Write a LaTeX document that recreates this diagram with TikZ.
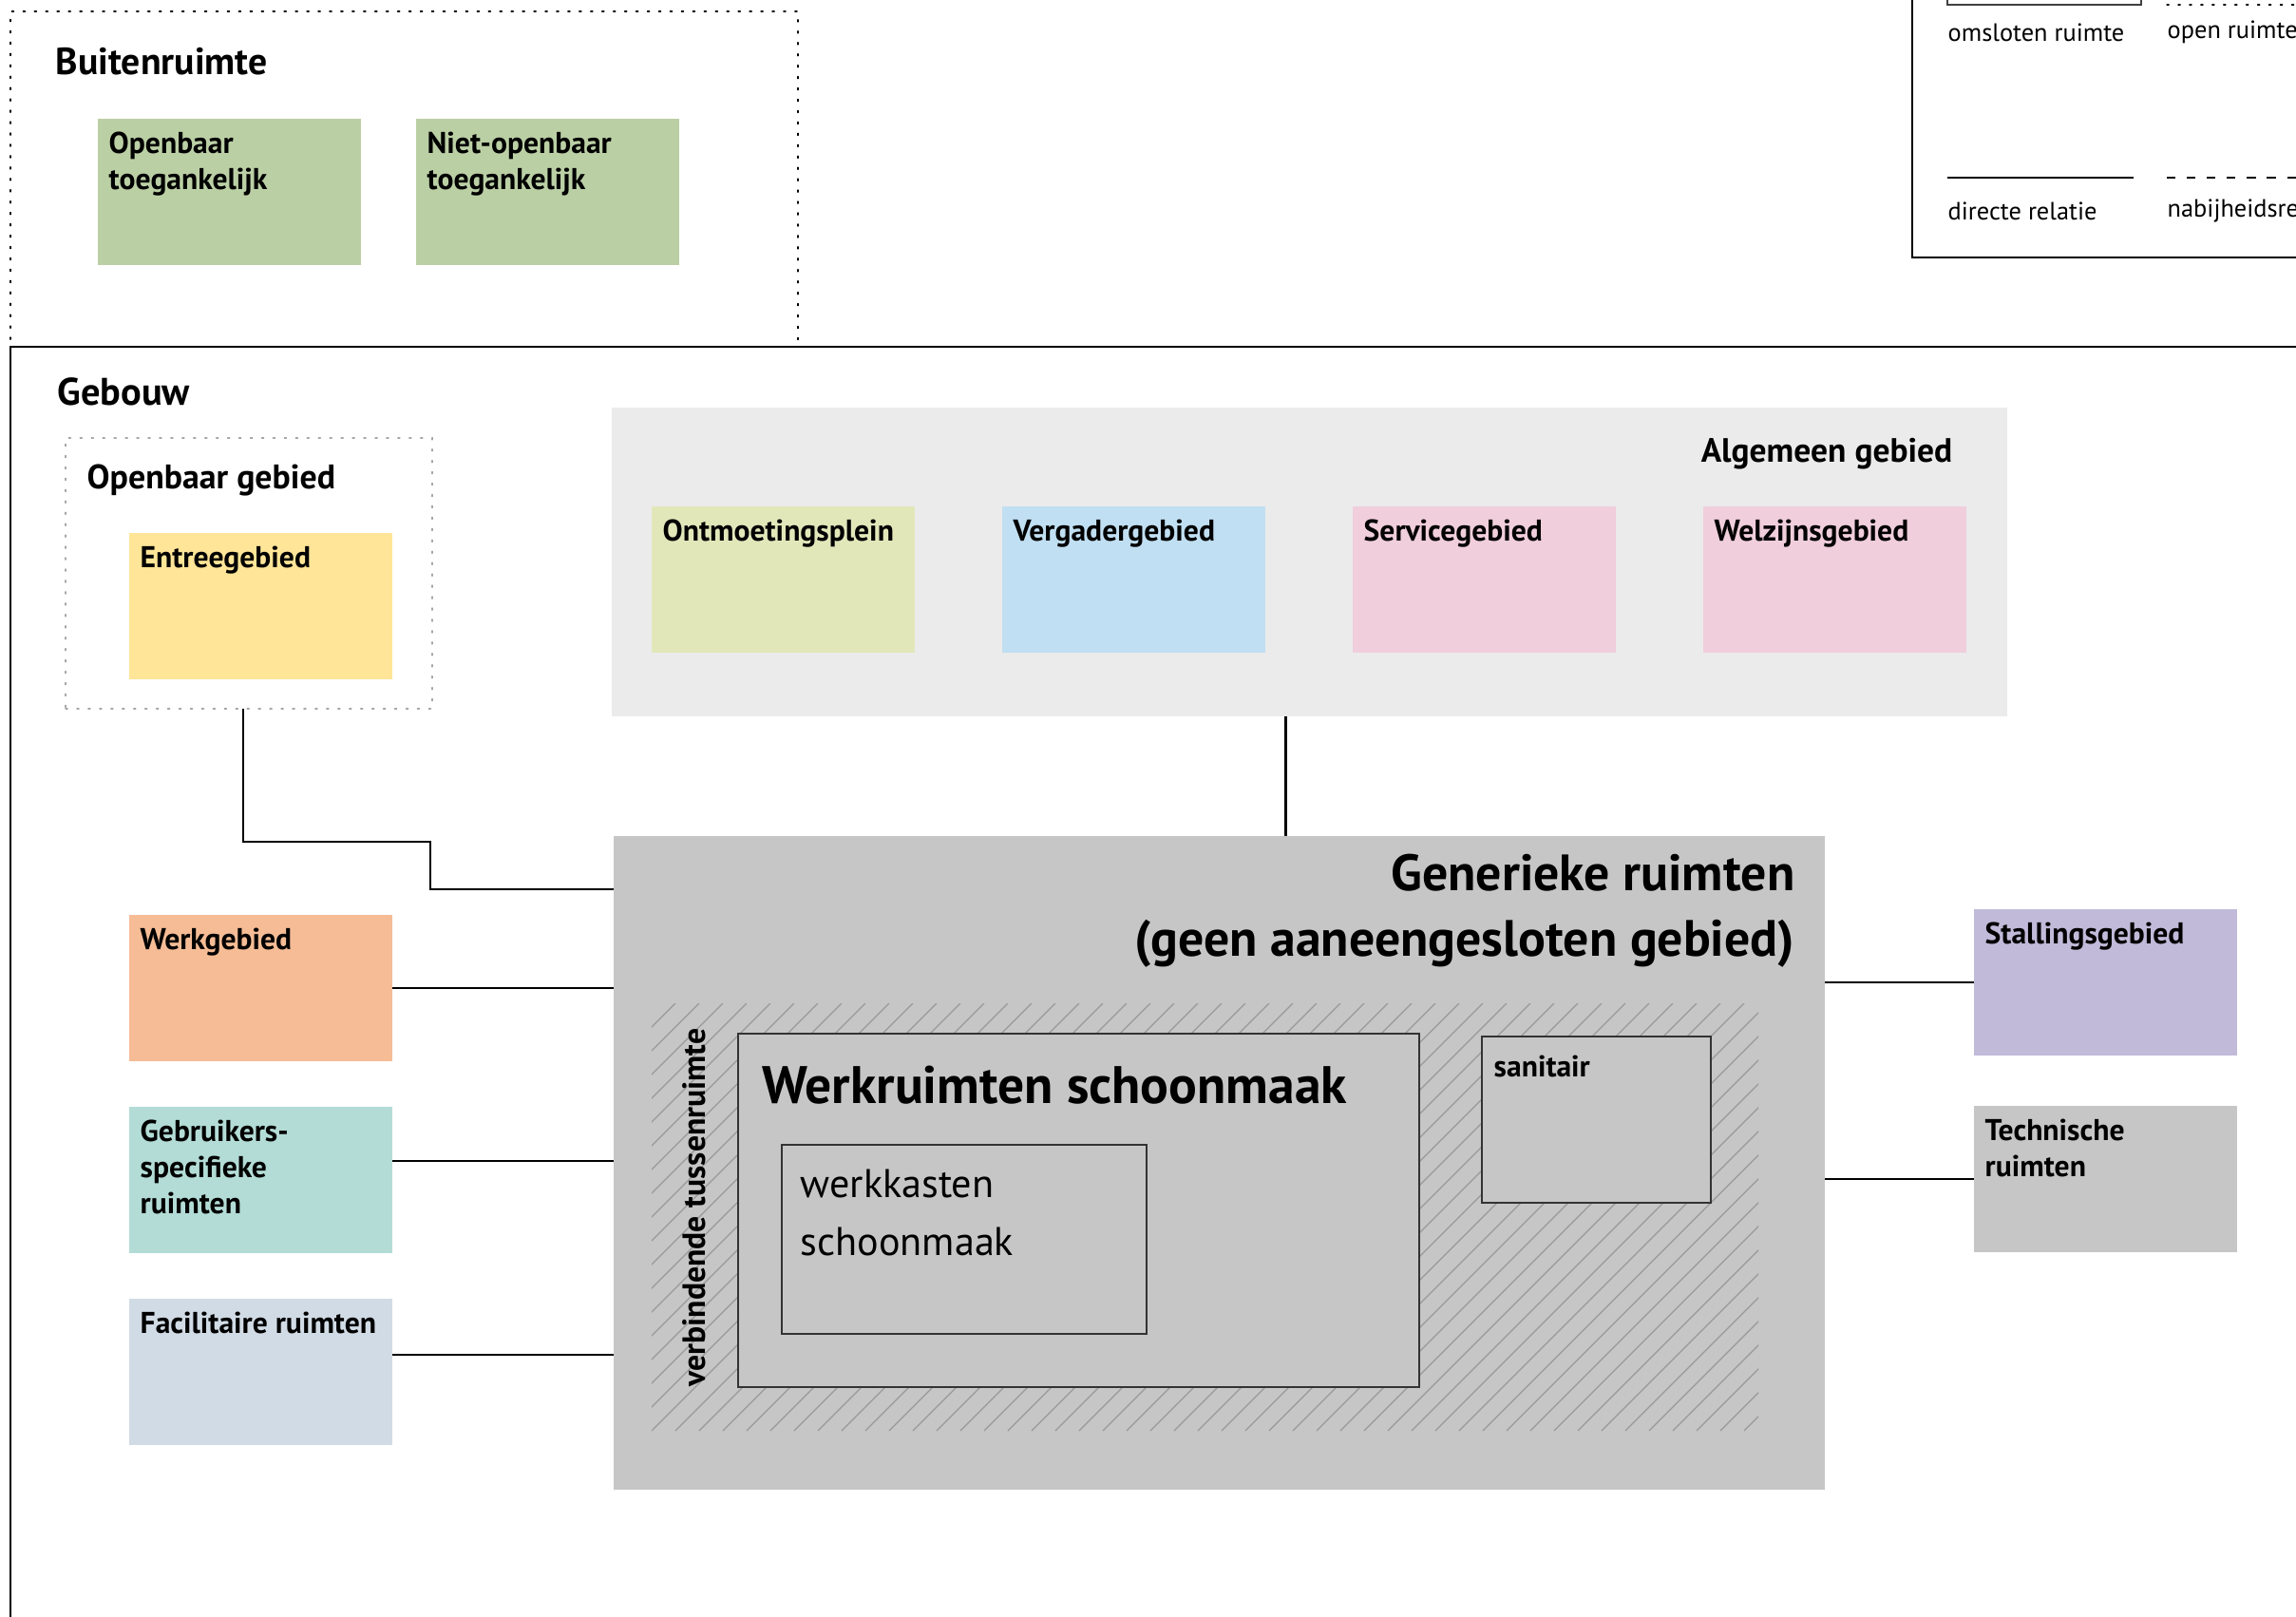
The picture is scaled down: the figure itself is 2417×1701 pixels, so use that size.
\documentclass[tikz,border=0pt]{standalone}
\usepackage{fontspec}
\setmainfont{PT Sans}
\usetikzlibrary{positioning}

\definecolor{buitengroen}{HTML}{BBCFA5}
\definecolor{entreegeel}{HTML}{FFE597}
\definecolor{ontmoetgroen}{HTML}{E2E7BA}
\definecolor{vergaderblauw}{HTML}{C1DFF2}
\definecolor{serviceroze}{HTML}{F0CEDB}
\definecolor{werkoranje}{HTML}{F5BC95}
\definecolor{gebruikersteal}{HTML}{B3DCD6}
\definecolor{facilitairgrijs}{HTML}{D1DBE5}
\definecolor{stallingpaars}{HTML}{C1BAD9}
\definecolor{ruimtegrijs}{HTML}{C6C6C6}
\definecolor{algemeengrijs}{HTML}{EBEBEB}

\begin{document}
\begin{tikzpicture}[
  x=0.1mm, y=-0.1mm,
  zone/.style={anchor=north west, inner sep=0pt, outer sep=0pt},
  area/.style={zone, minimum width=27.7mm, minimum height=15.4mm},
  lbl/.style={anchor=north west, align=left, inner sep=0pt, font=\fontsize{9}{10.8}\selectfont\bfseries, xshift=1.1mm, yshift=-1.3mm},
  title/.style={anchor=west, inner sep=0pt, font=\fontsize{11.3}{13}\selectfont\bfseries},
  legtext/.style={anchor=west, inner sep=0pt, font=\fontsize{7.5}{9}\selectfont},
  rel/.style={line width=0.6pt},
  openline/.style={dash pattern=on 0.6pt off 2.8pt, line cap=round},
  hatch/.style={draw=gray!80, line width=0.35pt}
]
\useasboundingbox (0,0) rectangle (2417,1701);

% buitenruimte
\node[zone, draw, openline, minimum width=82.9mm, minimum height=35.3mm] (buiten) at (11,12) {};
\node[title] (buitentitel) at (58,65) {Buitenruimte};
\node[area, fill=buitengroen, label={[lbl]north west:{Openbaar\\toegankelijk}}] (openbaar) at (103,125) {};
\node[area, fill=buitengroen, right=5.8mm of openbaar, label={[lbl]north west:{Niet-openbaar\\toegankelijk}}] (nietopenbaar) {};

% legenda
\node[zone, draw, line width=0.7pt, minimum width=50mm, minimum height=33mm] (legenda) at (2013,-59) {};
\node[zone, draw=black!75, line width=0.4pt, minimum width=20.4mm, minimum height=4.5mm] (legomsloten) at (2050,-40) {};
\node[legtext] (txtomsloten) at (2050,34) {omsloten ruimte};
\coordinate (openA) at (2281,5);
\coordinate (openB) at (2460,5);
\draw[openline] (openA) -- (openB);
\node[legtext] (txtopen) at (2281,34) {open ruimte};
\coordinate (direktA) at (2050,187);
\coordinate (direktB) at (2246,187);
\draw[rel] (direktA) -- (direktB);
\node[legtext] (txtdirekt) at (2050,222) {directe relatie};
\coordinate (nabijA) at (2281,187);
\coordinate (nabijB) at (2460,187);
\draw[rel, dash pattern=on 2.6pt off 3.4pt] (nabijA) -- (nabijB);
\node[legtext] (txtnabij) at (2281,222) {nabijheidsrelatie};

% gebouw
\node[zone, draw, line width=0.7pt, minimum width=250mm, minimum height=150mm] (gebouw) at (11,365) {};
\node[title, font=\fontsize{11.5}{13}\selectfont\bfseries] (gebouwtitel) at (60,412) {Gebouw};

\node[zone, draw=gray!70, openline, minimum width=38.6mm, minimum height=28.5mm] (openbaargebied) at (69,461) {};
\node[title, font=\fontsize{10.2}{12}\selectfont\bfseries] (ogtitel) at (91,505) {Openbaar gebied};
\node[area, fill=entreegeel, label={[lbl]north west:Entreegebied}] (entree) at (136,561) {};

\node[zone, fill=algemeengrijs, minimum width=146.9mm, minimum height=32.5mm] (algemeen) at (644,429) {};
\node[title, anchor=east, font=\fontsize{10.1}{12}\selectfont\bfseries] (algtitel) at (2056,478) {Algemeen gebied};
\node[area, fill=ontmoetgroen, label={[lbl]north west:Ontmoetingsplein}] (ontmoet) at (686,533) {};
\node[area, fill=vergaderblauw, right=9.2mm of ontmoet, label={[lbl]north west:Vergadergebied}] (vergader) {};
\node[area, fill=serviceroze, right=9.2mm of vergader, label={[lbl]north west:Servicegebied}] (service) {};
\node[area, fill=serviceroze, right=9.2mm of service, label={[lbl]north west:Welzijnsgebied}] (welzijn) {};

\node[area, fill=werkoranje, label={[lbl]north west:Werkgebied}] (werk) at (136,963) {};
\node[area, fill=gebruikersteal, below=4.8mm of werk, label={[lbl]north west:{Gebruikers-\\specifieke\\ruimten}}] (gebruikers) {};
\node[area, fill=facilitairgrijs, below=4.8mm of gebruikers, label={[lbl]north west:Facilitaire ruimten}] (facilitair) {};

\node[area, fill=stallingpaars, label={[lbl]north west:Stallingsgebied}] (stalling) at (2078,957) {};
\node[area, fill=ruimtegrijs, below=5.3mm of stalling, label={[lbl]north west:{Technische\\ruimten}}] (technisch) {};

% generieke ruimten
\node[zone, fill=ruimtegrijs, minimum width=127.5mm, minimum height=68.8mm] (generiek) at (646,880) {};
\node[anchor=east, align=right, inner sep=0pt, font=\fontsize{15.3}{19.6}\selectfont\bfseries] (gentitel) at (1890,959) {Generieke ruimten\\(geen aaneengesloten gebied)};

\node[zone, minimum width=116.5mm, minimum height=45mm] (tussen) at (686,1056) {};
\begin{scope}
  \clip (tussen.north west) rectangle (tussen.south east);
  \foreach \x in {0,25,...,1650}
    \draw[hatch] (tussen.south west) ++(\x-450,0) -- ++(450,-450);
\end{scope}
\node[rotate=90, anchor=west, inner sep=0pt, font=\fontsize{9.6}{11}\selectfont\bfseries] (tussentitel) at (731,1460) {verbindende tussenruimte};

\node[zone, fill=ruimtegrijs, draw=black!80, line width=0.5pt, minimum width=71.7mm, minimum height=37.2mm] (werkruimten) at (777,1088) {};
\node[anchor=west, inner sep=0pt, font=\fontsize{15.8}{18}\selectfont\bfseries] (werktitel) at (802,1142) {Werkruimten schoonmaak};
\node[zone, fill=ruimtegrijs, draw=black!80, line width=0.5pt, minimum width=38.4mm, minimum height=19.9mm, label={[anchor=north west, align=left, inner sep=0pt, font=\fontsize{12}{17.4}\selectfont, xshift=1.9mm, yshift=-2.5mm]north west:{werkkasten\\schoonmaak}}] (werkkasten) at (823,1205) {};
\node[zone, fill=ruimtegrijs, draw=black!80, line width=0.5pt, minimum width=24.1mm, minimum height=17.5mm, label={[lbl, xshift=0.1mm, yshift=-0.6mm]north west:sanitair}] (sanitair) at (1560,1091) {};

% relaties
\draw[rel] ([xshift=-0.6mm]openbaargebied.south) |- ++(197,140) |- ([yshift=-5.6mm]generiek.north west);
\draw[rel] ([xshift=-2.5mm]algemeen.south) -- ([xshift=-2.5mm]algemeen.south |- generiek.north);
\draw[rel] (werk.east) -- (werk.east -| generiek.west);
\draw[rel] ([yshift=2mm]gebruikers.east) -- ([yshift=2mm]gebruikers.east -| generiek.west);
\draw[rel] ([yshift=1.8mm]facilitair.east) -- ([yshift=1.8mm]facilitair.east -| generiek.west);
\draw[rel] (stalling.west) -- (stalling.west -| generiek.east);
\draw[rel] (technisch.west) -- (technisch.west -| generiek.east);

\end{tikzpicture}
\end{document}
